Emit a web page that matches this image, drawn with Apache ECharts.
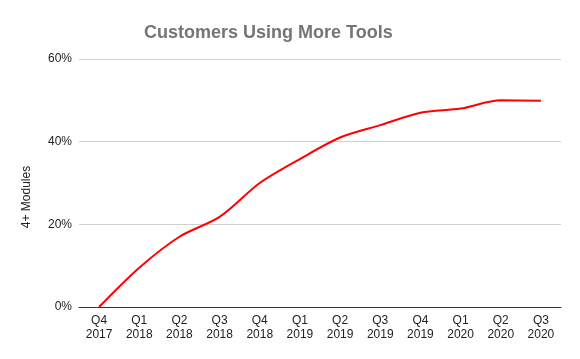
<!DOCTYPE html>
<html>
<head>
<meta charset="utf-8">
<script src="https://cdn.jsdelivr.net/npm/echarts@6/dist/echarts.min.js"></script>
<style>html,body{margin:0;padding:0;background:#fff}#c{width:580px;height:359px}</style>
</head>
<body>
<div id="c"></div>
<script>
const categories = ['Q4\n2017','Q1\n2018','Q2\n2018','Q3\n2018','Q4\n2018','Q1\n2019','Q2\n2019','Q3\n2019','Q4\n2019','Q1\n2020','Q2\n2020','Q3\n2020'];
const modules4Plus = [0, 9.5, 17, 21.8, 30, 35.8, 41, 44, 47, 48, 50, 49.9];
const yTicks = { min: 0, max: 60, interval: 20 };

const chart = echarts.init(document.getElementById('c'), null, { renderer: 'canvas' });
chart.setOption({
  animation: false,
  title: {
    text: 'Customers Using More Tools',
    left: 139, top: 19,
    textStyle: { fontFamily: 'Liberation Sans, Arial, sans-serif', fontSize: 18, fontWeight: 'bold', color: '#757575' }
  },
  grid: { left: 79, right: 19, top: 59, bottom: 52 },
  xAxis: {
    type: 'category',
    data: categories,
    boundaryGap: true,
    axisLine: { lineStyle: { color: '#333', width: 1 } },
    axisTick: { show: false },
    axisLabel: { color: '#222', fontSize: 12, fontFamily: 'Liberation Sans, Arial, sans-serif', lineHeight: 14, margin: 7, interval: 0 }
  },
  yAxis: {
    type: 'value',
    min: yTicks.min, max: yTicks.max, interval: yTicks.interval,
    name: '4+ Modules',
    nameLocation: 'middle',
    nameGap: 46,
    nameTextStyle: { color: '#222', fontSize: 12, fontFamily: 'Liberation Sans, Arial, sans-serif', padding: [0, 28, 0, 0] },
    axisLine: { show: false },
    axisTick: { show: false },
    axisLabel: { formatter: '{value}%', color: '#222', fontSize: 12, fontFamily: 'Liberation Sans, Arial, sans-serif', margin: 7 },
    splitLine: { lineStyle: { color: '#d0d0d0', width: 1 } }
  },
  series: [{
    type: 'line',
    data: modules4Plus,
    smooth: 0.3,
    symbol: 'none',
    lineStyle: { color: '#ff0000', width: 2 }
  }]
});
</script>
</body>
</html>
